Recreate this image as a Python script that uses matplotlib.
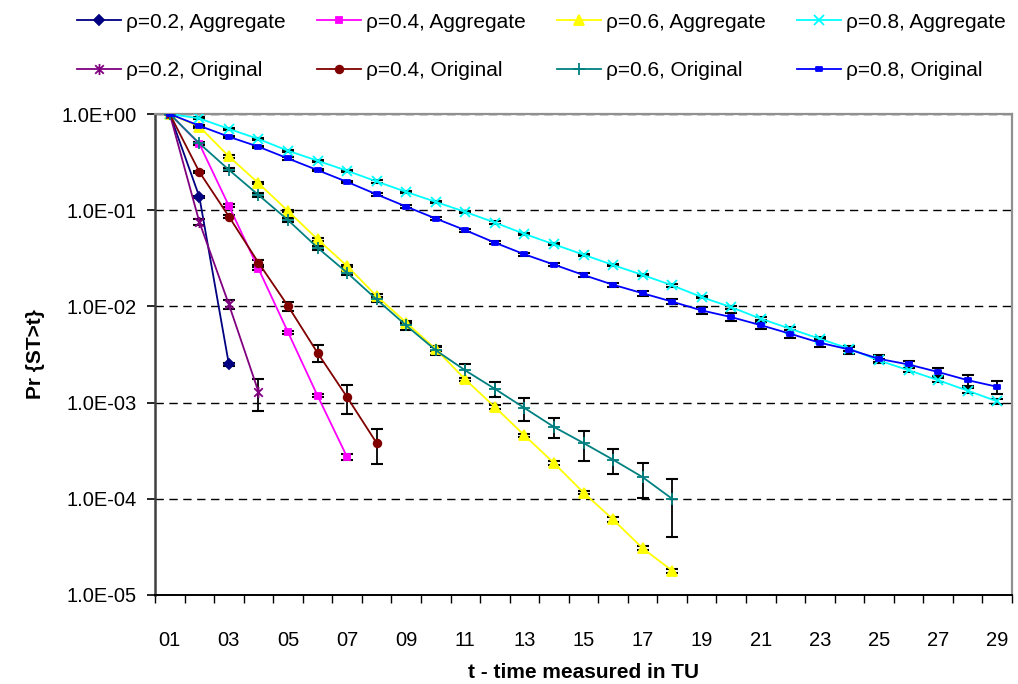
import matplotlib
matplotlib.use("Agg")
import matplotlib.pyplot as plt
from matplotlib.path import Path
from matplotlib.ticker import FixedLocator, FixedFormatter, NullFormatter
import numpy as np

plt.rcParams['font.family'] = ['Liberation Sans', 'DejaVu Sans']

# survival probabilities Pr{ST>t}, t = 1, 2, ...
rho02_agg = [1.0, 0.138, 0.0025]
rho04_agg = [1.0, 0.49, 0.111, 0.0247, 0.0054, 0.00118, 0.000272]
rho06_agg = [1.0, 0.74, 0.362, 0.191, 0.098, 0.0499, 0.0263, 0.0128, 0.0068, 0.0036,
             0.00174, 0.0009, 0.000457, 0.000235, 0.000116, 6.1e-5, 3.06e-5, 1.79e-5]
rho08_agg = [1.0, 0.90, 0.70, 0.55, 0.415, 0.327, 0.257, 0.199, 0.155, 0.122,
             0.096, 0.0744, 0.0567, 0.0442, 0.0345, 0.0269, 0.0212, 0.01655, 0.0125, 0.0098,
             0.00745, 0.00585, 0.0046, 0.00363, 0.00274, 0.00217, 0.00171, 0.00133, 0.00103]
rho02_orig = [1.0, 0.0755, 0.0105, 0.0013]
rho04_orig = [1.0, 0.25, 0.086, 0.0285, 0.0101, 0.00329, 0.00114, 0.00038]
rho06_orig = [1.0, 0.495, 0.263, 0.144, 0.079, 0.0408, 0.0224, 0.0118, 0.00634, 0.0035,
              0.00216, 0.00139, 0.00088, 0.000558, 0.00038, 0.000255, 0.000168, 0.0001]
rho08_orig = [1.0, 0.755, 0.58, 0.457, 0.345, 0.261, 0.197, 0.146, 0.109, 0.0819,
              0.062, 0.046, 0.0348, 0.0272, 0.0212, 0.0168, 0.0137, 0.0112, 0.00908, 0.00774,
              0.00638, 0.00519, 0.00419, 0.00356, 0.00285, 0.00249, 0.00208, 0.00171, 0.00146]

# error bar half-widths
err02_agg = [0, 0.004, 0.0001]
err04_agg = [0, 0.015, 0.004, 0.001, 0.0002, 0.00005, 0.00002]
err06_agg = [0, 0.02, 0.012, 0.006, 0.003, 0.0015, 0.0009, 0.0005, 0.0003, 0.00015,
             0.00007, 0.00004, 0.00002, 0.00001, 0.000005, 0.000003, 0.0000015, 0.0000009]
err08_agg = [0, 0.02, 0.02, 0.015, 0.012, 0.009, 0.007, 0.005, 0.004, 0.003,
             0.0025, 0.002, 0.0015, 0.0012, 0.0009, 0.0007, 0.0006, 0.0005, 0.0004, 0.0003,
             0.00025, 0.0002, 0.00017, 0.00015, 0.00012, 0.0001, 0.00009, 0.00008, 0.00006]
err02_orig = [0, 0.005, 0.0012, 0.00048]
err04_orig = [0, 0.008, 0.004, 0.0017, 0.0011, 0.00065, 0.00037, 0.00015]
err06_orig = [0, 0.02, 0.01, 0.006, 0.004, 0.002, 0.0012, 0.0008, 0.0006, 0.0004,
              0.00035, 0.00025, 0.00023, 0.00013, 0.00013, 0.000075, 0.000067, 0.00006]
err08_orig = [0, 0.02, 0.015, 0.012, 0.01, 0.008, 0.006, 0.005, 0.004, 0.003,
              0.0025, 0.002, 0.0015, 0.0012, 0.001, 0.0009, 0.0008, 0.0007, 0.00075, 0.0007,
              0.00058, 0.00052, 0.00042, 0.00036, 0.00026, 0.00022, 0.0002, 0.00022, 0.00022]

labels = ["ρ=0.2, Aggregate", "ρ=0.4, Aggregate", "ρ=0.6, Aggregate", "ρ=0.8, Aggregate",
          "ρ=0.2, Original", "ρ=0.4, Original", "ρ=0.6, Original", "ρ=0.8, Original"]
tick_labels = ["01", "03", "05", "07", "09", "11", "13", "15", "17", "19", "21", "23", "25", "27", "29"]

# excel-like markers
star = Path([(-1, -1), (1, 1), (-1, 1), (1, -1), (0, -1.3), (0, 1.3)],
            [Path.MOVETO, Path.LINETO, Path.MOVETO, Path.LINETO, Path.MOVETO, Path.LINETO])
dash = Path([(-1, -0.6), (1, -0.6), (1, 0.6), (-1, 0.6), (-1, -0.6)],
            [Path.MOVETO, Path.LINETO, Path.LINETO, Path.LINETO, Path.CLOSEPOLY])

series = [
    (rho02_agg, err02_agg, '#000080', 'D', 5),
    (rho04_agg, err04_agg, '#FF00FF', 's', 5),
    (rho06_agg, err06_agg, '#FFFF00', '^', 7),
    (rho08_agg, err08_agg, '#00FFFF', 'x', 7),
    (rho02_orig, err02_orig, '#800080', star, 8),
    (rho04_orig, err04_orig, '#800000', 'o', 5.5),
    (rho06_orig, err06_orig, '#008080', '+', 9),
    (rho08_orig, err08_orig, '#0000FF', dash, 5),
]

fig = plt.figure(figsize=(10.18, 6.84), dpi=100)
ax = fig.add_axes([155 / 1018, 1 - 595 / 684, 857 / 1018, 481 / 684])

handles = []
for (vals, err, col, mk, ms), lab in zip(series, labels):
    t = np.arange(1, len(vals) + 1)
    ax.errorbar(t, vals, yerr=err, fmt='none', ecolor='black', elinewidth=1.3,
                capsize=4.5, capthick=1.5, zorder=2)
    h, = ax.plot(t, vals, color=col, marker=mk, markersize=ms, markerfacecolor=col,
                 markeredgecolor=col, markeredgewidth=1.3, linewidth=1.3, label=lab, zorder=3)
    handles.append(h)

ax.set_yscale('log')
ax.set_ylim(1e-5, 1.0)
ax.set_xlim(0.5, 29.5)

ax.yaxis.set_major_locator(FixedLocator([1e-5, 1e-4, 1e-3, 1e-2, 1e-1, 1.0]))
ax.yaxis.set_major_formatter(FixedFormatter(["1.0E-05", "1.0E-04", "1.0E-03", "1.0E-02", "1.0E-01", "1.0E+00"]))
ax.yaxis.set_minor_locator(FixedLocator([]))
ax.yaxis.set_minor_formatter(NullFormatter())
ax.tick_params(axis='y', which='major', direction='out', length=6, width=1.2, pad=7, labelsize=14.5)

ax.xaxis.set_major_locator(FixedLocator(np.arange(1, 30, 2)))
ax.xaxis.set_major_formatter(FixedFormatter(tick_labels))
ax.xaxis.set_minor_locator(FixedLocator(np.arange(0.5, 30, 1)))
ax.tick_params(axis='x', which='major', length=0, pad=26, labelsize=14.5)
ax.tick_params(axis='x', which='minor', direction='out', length=6, width=1.0)

ax.grid(axis='y', which='major', color='black', linestyle=(0, (6, 4)), linewidth=1.0)
ax.set_axisbelow(True)

ax.spines['left'].set_color('#404040')
ax.spines['left'].set_linewidth(1.8)
ax.spines['bottom'].set_color('black')
ax.spines['bottom'].set_linewidth(1.4)
for s in ['top', 'right']:
    ax.spines[s].set_color('#909090')
    ax.spines[s].set_linewidth(1.6)

ax.set_ylabel("Pr {ST>t}", fontsize=15, fontweight='bold', labelpad=12)
ax.set_xlabel("t - time measured in TU", fontsize=15, fontweight='bold', labelpad=9)

order = [0, 4, 1, 5, 2, 6, 3, 7]
fig.legend([handles[i] for i in order], [labels[i] for i in order], ncol=4,
           loc='center', bbox_to_anchor=(0.532, 0.932), frameon=False, fontsize=15,
           handlelength=2.1, handletextpad=0.25, columnspacing=1.5, labelspacing=1.42,
           borderpad=0)

fig.savefig("out.png", dpi=100)
